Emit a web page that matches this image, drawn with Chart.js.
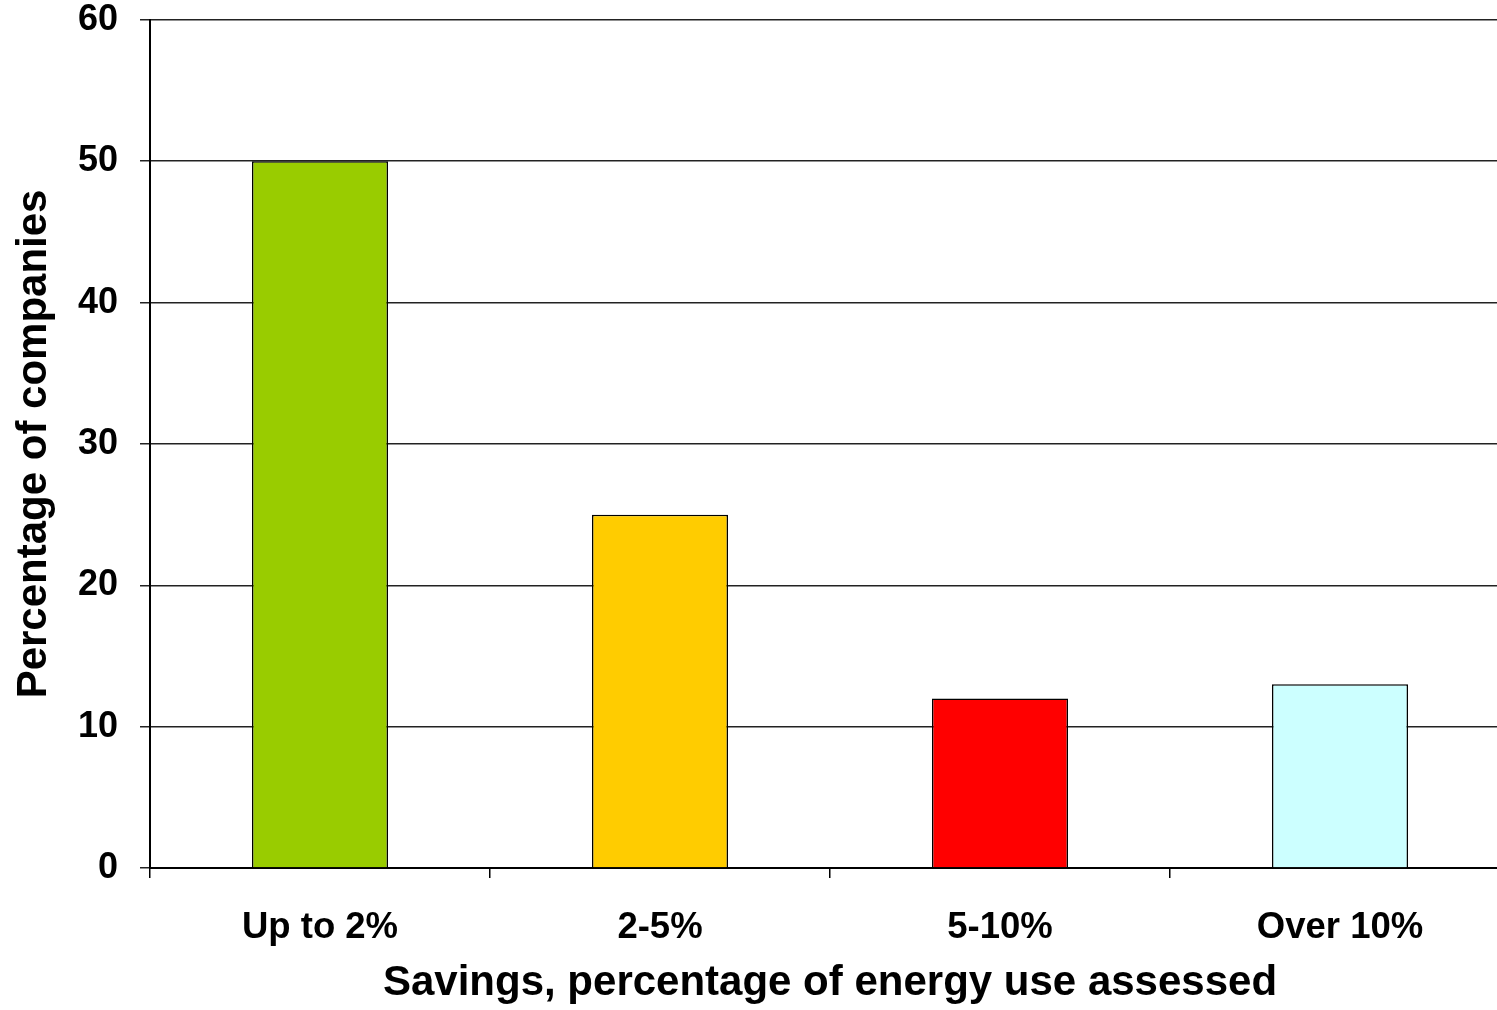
<!DOCTYPE html>
<html>
<head>
<meta charset="utf-8">
<script src="https://cdn.jsdelivr.net/npm/chart.js@4"></script>
<style>
  html, body { margin: 0; padding: 0; background: #fff; overflow: hidden; }
  #wrap { width: 1510px; height: 1031px; position: relative; margin-top: -21px; }
</style>
</head>
<body>
<div id="wrap"><canvas id="chart"></canvas></div>
<script>
// categories and values
const categories = ['Up to 2%', '2-5%', '5-10%', 'Over 10%'];
const percentCompanies = [50, 25, 12, 13];
const barColors = ['#99CC00', '#FFCC00', '#FF0000', '#CCFFFF'];
const yTitle = 'Percentage of companies';
const xTitle = 'Savings, percentage of energy use assessed';

const fontFamily = '"Liberation Sans", Arial, sans-serif';

let ctx = document.getElementById('chart').getContext('2d');
let chart = new Chart(ctx, {
  type: 'bar',
  data: {
    labels: categories,
    datasets: [{
      data: percentCompanies,
      backgroundColor: barColors,
      borderColor: '#000',
      borderWidth: 1.5,
      categoryPercentage: 1,
      barPercentage: 0.4,
    }]
  },
  options: {
    responsive: true,
    maintainAspectRatio: false,
    animation: false,
    layout: { padding: { top: 0, right: 0, bottom: 1, left: 0 } },
    plugins: {
      legend: { display: false },
      tooltip: { enabled: false },
    },
    scales: {
      x: {
        afterFit: (scale) => { scale.height = 141; },
        grid: { drawOnChartArea: false, drawTicks: true, tickLength: 10, color: '#000', lineWidth: 1.5 },
        border: { color: '#000', width: 2 },
        ticks: { color: '#000', padding: 28, font: { family: fontFamily, size: 36.5, weight: 'bold' } },
        title: {
          display: true, text: xTitle, color: '#000',
          padding: { top: 16, bottom: 0 },
          font: { family: fontFamily, size: 42, weight: 'bold' }
        }
      },
      y: {
        min: 0, max: 60,
        afterFit: (scale) => { scale.width = 150; },
        ticks: { stepSize: 10, color: '#000', padding: 22, font: { family: fontFamily, size: 36, weight: 'bold', lineHeight: 1.05 } },
        grid: { color: '#222', lineWidth: 1.5, tickLength: 10 },
        border: { color: '#000', width: 2 },
        title: {
          display: true, text: yTitle, color: '#000',
          padding: { top: 9, bottom: 0 },
          font: { family: fontFamily, size: 42, weight: 'bold' }
        }
      }
    }
  }
});
</script>
</body>
</html>
